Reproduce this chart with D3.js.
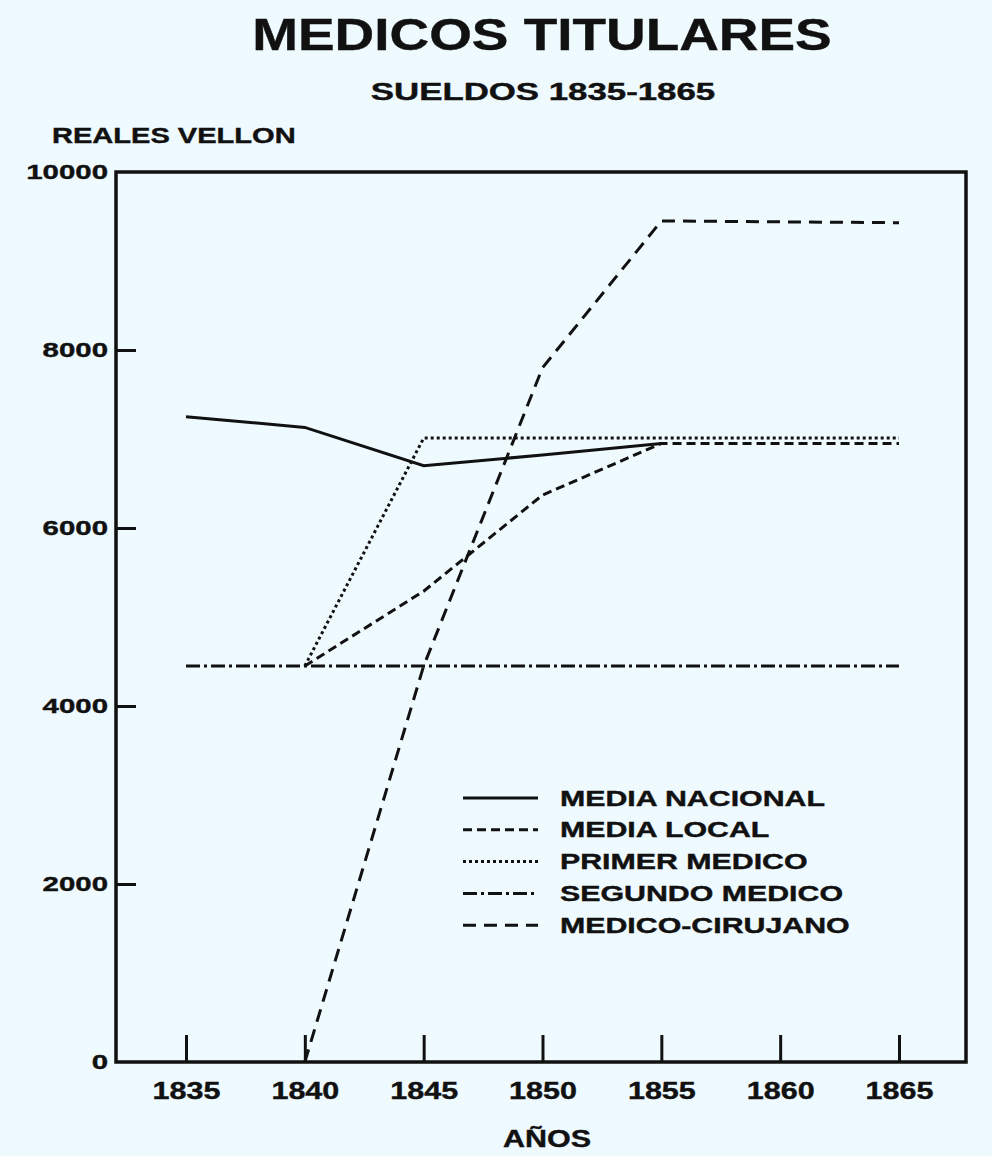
<!DOCTYPE html>
<html lang="es">
<head>
	<meta charset="UTF-8">
	<title>Medicos titulares: sueldos 1835-1865</title>
	<script src="https://cdn.jsdelivr.net/npm/d3@7"></script>

	<style type="text/css">

		body {
			margin: 0;
			background: #effaff;
		}

		text {
			font-family: 'Liberation Sans', Arial, sans-serif;
			font-weight: bold;
			fill: #111;
			stroke: #111;
			stroke-width: 0.4;
		}

		.serie {
			fill: none;
			stroke: #111;
			stroke-width: 3;
		}

	</style>

</head>
<body>

<script type="text/javascript">

	var years = [1835, 1840, 1845, 1850, 1855, 1860, 1865];

	var mediaNacional = [7250, 7130, 6700, 6820, 6950, null, null];
	var mediaLocal = [null, 4450, 5290, 6370, 6950, 6950, 6950];
	var primerMedico = [null, 4450, 7010, 7010, 7010, 7010, 7010];
	var segundoMedico = [4450, 4450, 4450, 4450, 4450, 4450, 4450];
	var medicoCirujano = [null, 0, 4450, 7800, 9450, 9440, 9430];

	var seriesNames = ['MEDIA NACIONAL', 'MEDIA LOCAL', 'PRIMER MEDICO', 'SEGUNDO MEDICO', 'MEDICO-CIRUJANO'];
	var seriesValues = [mediaNacional, mediaLocal, primerMedico, segundoMedico, medicoCirujano];
	var dashes = ['none', '9,5', '3,3', '14,4,3,4', '13,8'];

	var yTicks = [0, 2000, 4000, 6000, 8000, 10000];

	window.onload = function () {

		var margin = {top: 172, left: 116, bottom: 94, right: 26};
		var W = 992, H = 1156;
		var width = W - margin.left - margin.right;
		var height = H - margin.top - margin.bottom;

		// stretch text horizontally, the original lettering is wide
		function stretch(sel, f) {
			sel.each(function () {
				var w = this.getComputedTextLength();
				d3.select(this).attr('textLength', w * f).attr('lengthAdjust', 'spacingAndGlyphs');
			});
		}

		var root = d3.select('body').append('svg')
			.attr('width', W)
			.attr('height', H);

		root.append('text')
			.attr('x', 542).attr('y', 50)
			.attr('text-anchor', 'middle')
			.style('font-size', '45px')
			.text('MEDICOS TITULARES')
			.call(stretch, 1.22);

		root.append('text')
			.attr('x', 543).attr('y', 100)
			.attr('text-anchor', 'middle')
			.style('font-size', '24px')
			.text('SUELDOS 1835-1865')
			.call(stretch, 1.45);

		root.append('text')
			.attr('x', 52).attr('y', 143)
			.style('font-size', '22px')
			.text('REALES VELLON')
			.call(stretch, 1.32);

		var svg = root.append('g')
			.attr('transform', 'translate(' + margin.left + ',' + margin.top + ')');

		var x = d3.scaleLinear()
			.domain([1835, 1865])
			.range([70, 783]);

		var y = d3.scaleLinear()
			.domain([0, 10000])
			.range([height, 0]);

		// y axis, ticks pointing inside
		var gy = svg.append('g')
			.call(d3.axisLeft(y).tickValues(yTicks).tickFormat(d3.format('d'))
				.tickSizeInner(-20).tickSizeOuter(0).tickPadding(8));
		gy.select('.domain').remove();
		gy.selectAll('.tick line')
			.attr('stroke', '#111')
			.attr('stroke-width', 3)
			.filter(function (d) { return d === 0 || d === 10000; })
			.remove();
		gy.selectAll('.tick text')
			.attr('fill', '#111')
			.style('font-size', '21px')
			.call(stretch, 1.4);
		gy.attr('font-family', null).attr('font-size', null);

		// x axis
		var gx = svg.append('g')
			.attr('transform', 'translate(0,' + height + ')')
			.call(d3.axisBottom(x).tickValues(years).tickFormat(d3.format('d'))
				.tickSizeInner(-27).tickSizeOuter(0).tickPadding(20));
		gx.select('.domain').remove();
		gx.selectAll('.tick line')
			.attr('stroke', '#111')
			.attr('stroke-width', 3);
		gx.selectAll('.tick text')
			.attr('fill', '#111')
			.style('font-size', '24px')
			.call(stretch, 1.27);
		gx.attr('font-family', null).attr('font-size', null);

		// frame
		svg.append('rect')
			.attr('width', width)
			.attr('height', height)
			.attr('fill', 'none')
			.attr('stroke', '#111')
			.attr('stroke-width', 3.5);

		root.append('text')
			.attr('x', 547).attr('y', 1147)
			.attr('text-anchor', 'middle')
			.style('font-size', '24px')
			.text('AÑOS')
			.call(stretch, 1.27);

		var line = d3.line()
			.x(function (d) { return x(d.year); })
			.y(function (d) { return y(d.value); });

		seriesValues.forEach(function (vals, i) {
			var pts = [];
			vals.forEach(function (v, j) {
				if (v !== null) pts.push({year: years[j], value: v});
			});
			svg.append('path')
				.datum(pts)
				.attr('class', 'serie')
				.attr('d', line)
				.style('stroke-dasharray', dashes[i]);
		});

		// legend
		var legend = root.append('g')
			.attr('transform', 'translate(463,798)');

		var row = legend.selectAll('.row')
			.data(seriesNames)
			.enter().append('g')
			.attr('class', 'row')
			.attr('transform', function (d, i) {
				return 'translate(0,' + (i * 31.8) + ')';
			});

		row.append('line')
			.attr('class', 'serie')
			.attr('x1', 0).attr('x2', 75)
			.style('stroke-dasharray', function (d, i) { return dashes[i]; });

		row.append('text')
			.attr('x', 97)
			.attr('y', 7.5)
			.style('font-size', '21.5px')
			.text(function (d) { return d; })
			.call(stretch, 1.41);

	};

</script>

</body>
</html>
